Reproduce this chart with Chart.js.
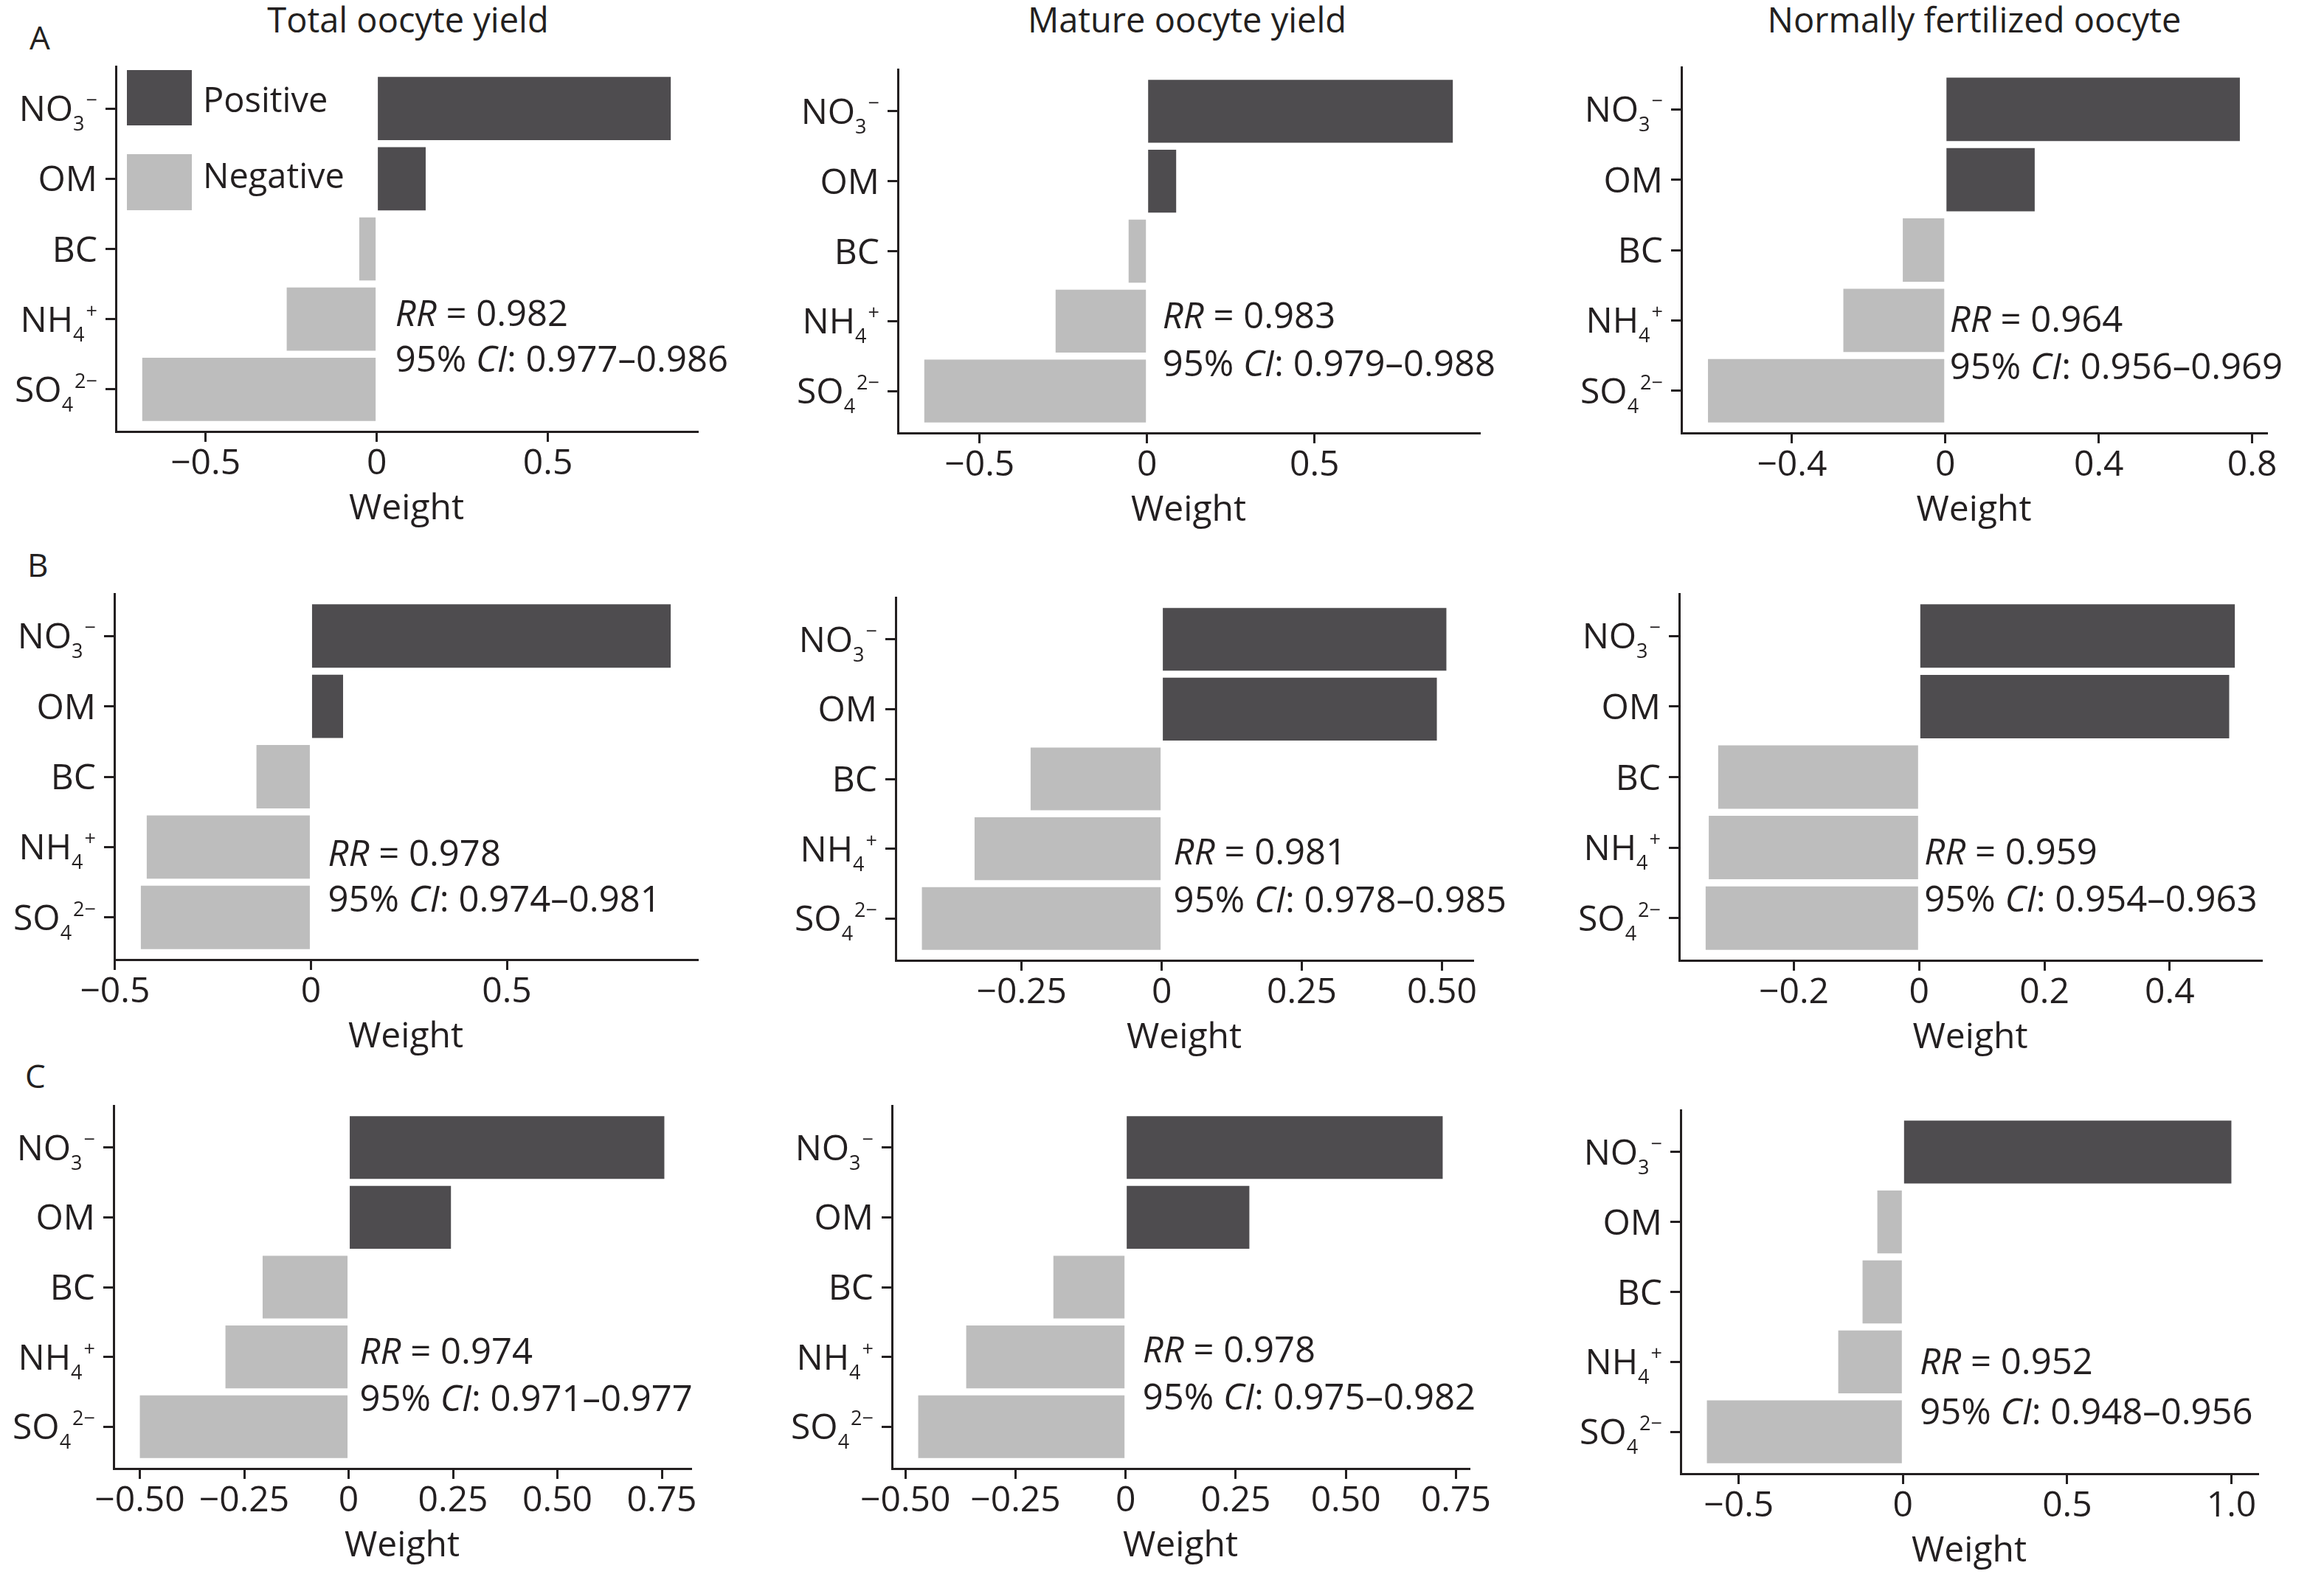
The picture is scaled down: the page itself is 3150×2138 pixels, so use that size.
<!DOCTYPE html>
<html>
<head>
<meta charset="utf-8">
<script src="https://cdn.jsdelivr.net/npm/chart.js@4.4.1/dist/chart.umd.min.js"></script>
<style>
  body { margin: 0; background: #fff; }
  #page { position: relative; width: 3150px; height: 2138px; overflow: hidden; background: #fff;
          font-family: "Open Sans", sans-serif; color: #231f20; }
  #page canvas { position: absolute; }
  .title { position: absolute; width: 900px; text-align: center; font-size: 47px; line-height: 47px; white-space: nowrap; }
  .letter { position: absolute; font-size: 44px; line-height: 44px; }
</style>
</head>
<body>
<div id="page"></div>
<script>
// categories, top to bottom
const categories = ["NO3−", "OM", "BC", "NH4+", "SO42−"];
const labelParts = [["NO", "3", "−"], ["OM", "", ""], ["BC", "", ""], ["NH", "4", "+"], ["SO", "4", "2−"]];
const columnTitles = ["Total oocyte yield", "Mature oocyte yield", "Normally fertilized oocyte"];
const rowLetters = ["A", "B", "C"];

// weights (NO3, OM, BC, NH4, SO4)
const weightsA1 = [0.859, 0.143, -0.051, -0.263, -0.685];
const weightsA2 = [0.913, 0.087, -0.055, -0.273, -0.665];
const weightsA3 = [0.768, 0.233, -0.111, -0.266, -0.619];
const weightsB1 = [0.918, 0.082, -0.139, -0.419, -0.434];
const weightsB2 = [0.508, 0.491, -0.234, -0.334, -0.428];
const weightsB3 = [0.504, 0.495, -0.321, -0.336, -0.341];
const weightsC1 = [0.756, 0.245, -0.206, -0.295, -0.500];
const weightsC2 = [0.720, 0.281, -0.164, -0.362, -0.471];
const weightsC3 = [1.000, -0.078, -0.123, -0.197, -0.597];

// x tick values and labels
const ticksHalf = [-0.5, 0, 0.5];
const labelsHalf = ["−0.5", "0", "0.5"];
const ticksFour = [-0.4, 0, 0.4, 0.8];
const labelsFour = ["−0.4", "0", "0.4", "0.8"];
const ticksQuarter = [-0.25, 0, 0.25, 0.5];
const labelsQuarter = ["−0.25", "0", "0.25", "0.50"];
const ticksTwo = [-0.2, 0, 0.2, 0.4];
const labelsTwo = ["−0.2", "0", "0.2", "0.4"];
const ticksQuarterWide = [-0.5, -0.25, 0, 0.25, 0.5, 0.75];
const labelsQuarterWide = ["−0.50", "−0.25", "0", "0.25", "0.50", "0.75"];
const ticksOne = [-0.5, 0, 0.5, 1.0];
const labelsOne = ["−0.5", "0", "0.5", "1.0"];

// RR and 95% CI per panel
const rrValues = ["0.982", "0.983", "0.964", "0.978", "0.981", "0.959", "0.974", "0.978", "0.952"];
const ciLower = ["0.977", "0.979", "0.956", "0.974", "0.978", "0.954", "0.971", "0.975", "0.948"];
const ciUpper = ["0.986", "0.988", "0.969", "0.981", "0.985", "0.963", "0.977", "0.982", "0.956"];

const panelWeights = [weightsA1, weightsA2, weightsA3, weightsB1, weightsB2, weightsB3, weightsC1, weightsC2, weightsC3];
const panelTicks = [ticksHalf, ticksHalf, ticksFour, ticksHalf, ticksQuarter, ticksTwo, ticksQuarterWide, ticksQuarterWide, ticksOne];
const panelTickLabels = [labelsHalf, labelsHalf, labelsFour, labelsHalf, labelsQuarter, labelsTwo, labelsQuarterWide, labelsQuarterWide, labelsOne];

// plot boxes on the page (px) and where the RR text sits
const panelBoxes = [
  { L: 157, T: 90, R: 945, B: 585, dx: 25, rrAt: 2.92, ciAt: 3.57 },
  { L: 1217, T: 94, R: 2005, B: 587, dx: 21, rrAt: 2.92, ciAt: 3.61 },
  { L: 2279, T: 91, R: 3072, B: 587, dx: 6, rrAt: 2.99, ciAt: 3.66 },
  { L: 155, T: 805, R: 945, B: 1301, dx: 23, rrAt: 3.09, ciAt: 3.74 },
  { L: 1214, T: 810, R: 1996, B: 1302, dx: 16, rrAt: 3.05, ciAt: 3.73 },
  { L: 2276, T: 805, R: 3065, B: 1302, dx: 7, rrAt: 3.06, ciAt: 3.73 },
  { L: 154, T: 1499, R: 936, B: 1991, dx: 15, rrAt: 2.92, ciAt: 3.60 },
  { L: 1209, T: 1499, R: 1991, B: 1991, dx: 23, rrAt: 2.90, ciAt: 3.57 },
  { L: 2278, T: 1505, R: 3060, B: 1998, dx: 23, rrAt: 3.00, ciAt: 3.71 }
];
const titleCenters = [553, 1609, 2676];
const letterSpots = [[40, 28], [37, 743], [34, 1436]];

const ink = "#231f20";
const darkBar = "#4e4c4f";
const lightBar = "#bdbdbd";
const family = "'Open Sans', sans-serif";
const YW = 150, PT = 40, PR = 80, XH = 134;

const page = document.getElementById("page");

columnTitles.forEach((t, i) => {
  const d = document.createElement("div");
  d.className = "title";
  d.textContent = t;
  d.style.left = (titleCenters[i] - 450) + "px";
  d.style.top = "3px";
  page.appendChild(d);
});
rowLetters.forEach((t, i) => {
  const d = document.createElement("div");
  d.className = "letter";
  d.textContent = t;
  d.style.left = letterSpots[i][0] + "px";
  d.style.top = letterSpots[i][1] + "px";
  page.appendChild(d);
});

function drawRuns(ctx, runs, x, y) {
  runs.forEach(([txt, italic]) => {
    ctx.font = (italic ? "italic " : "") + "49px " + family;
    ctx.fillText(txt, x, y);
    x += ctx.measureText(txt).width;
  });
}

function panelPlugin(idx, originX, originY) {
  const box = panelBoxes[idx];
  return {
    id: "panelText" + idx,
    afterDraw(chart) {
      const ctx = chart.ctx;
      const ys = chart.scales.y, xs = chart.scales.x, area = chart.chartArea;
      ctx.save();
      ctx.fillStyle = ink;
      ctx.textBaseline = "alphabetic";
      ctx.textAlign = "left";

      // y labels with sub/superscripts
      labelParts.forEach((parts, i) => {
        const base = ys.getPixelForValue(i) + 17;
        ctx.font = "48px " + family;
        const wBase = ctx.measureText(parts[0]).width;
        ctx.font = "27px " + family;
        const wSub = ctx.measureText(parts[1]).width;
        const wSup = ctx.measureText(parts[2]).width;
        let x = area.left - 25 - (wBase + wSub + wSup + (parts[2] ? 2 : 0));
        ctx.font = "48px " + family;
        ctx.fillText(parts[0], x, base);
        ctx.font = "27px " + family;
        ctx.fillText(parts[1], x + wBase, base + 13);
        ctx.fillText(parts[2], x + wBase + wSub + 2, base - 19);
      });

      // RR and CI text
      const tx = xs.getPixelForValue(0) + box.dx;
      drawRuns(ctx, [["RR", true], [" = " + rrValues[idx], false]], tx, ys.getPixelForValue(box.rrAt) + 17);
      drawRuns(ctx, [["95% ", false], ["CI", true], [": " + ciLower[idx] + "–" + ciUpper[idx], false]],
        tx, ys.getPixelForValue(box.ciAt) + 17);

      // legend in the first panel
      if (idx === 0) {
        ctx.fillStyle = darkBar;
        ctx.fillRect(172 - originX, 95 - originY, 88, 75);
        ctx.fillStyle = lightBar;
        ctx.fillRect(172 - originX, 209 - originY, 88, 76);
        ctx.fillStyle = ink;
        ctx.font = "47px " + family;
        ctx.fillText("Positive", 275 - originX, 152 - originY);
        ctx.fillText("Negative", 275 - originX, 255 - originY);
      }
      ctx.restore();
    }
  };
}

panelBoxes.forEach((box, idx) => {
  const values = panelWeights[idx];
  const tickVals = panelTicks[idx];
  const tickLabels = panelTickLabels[idx];
  const lo = Math.min(0, ...values), hi = Math.max(0, ...values);
  const pad = (hi - lo) * 0.05;

  const originX = box.L - YW, originY = box.T - PT;
  const w = YW + (box.R - box.L) + PR;
  const h = PT + (box.B - box.T) + XH;
  const canvas = document.createElement("canvas");
  canvas.width = w; canvas.height = h;
  canvas.style.left = originX + "px";
  canvas.style.top = originY + "px";
  canvas.style.width = w + "px";
  canvas.style.height = h + "px";
  page.appendChild(canvas);

  new Chart(canvas, {
    type: "bar",
    data: {
      labels: categories,
      datasets: [{
        data: values.map((v, i) => ({ x: v, y: i })),
        backgroundColor: values.map(v => v >= 0 ? darkBar : lightBar),
        borderWidth: 0,
        barPercentage: 0.9,
        categoryPercentage: 1
      }]
    },
    options: {
      indexAxis: "y",
      responsive: false,
      animation: false,
      devicePixelRatio: 1,
      layout: { padding: { left: 0, top: PT, right: PR, bottom: 0 } },
      plugins: { legend: { display: false }, tooltip: { enabled: false } },
      scales: {
        x: {
          type: "linear",
          min: lo - pad,
          max: hi + pad,
          offset: false,
          afterBuildTicks: s => { s.ticks = tickVals.map(v => ({ value: v })); },
          afterFit: s => { s.height = XH; },
          ticks: {
            autoSkip: false, maxRotation: 0, padding: 2, color: ink,
            font: { family: family, size: 48 },
            callback: (v, i) => tickLabels[i]
          },
          grid: { offset: false, drawOnChartArea: false, drawTicks: true, tickLength: 14, color: ink, lineWidth: 3 },
          border: { display: true, color: ink, width: 3 },
          title: { display: true, text: "Weight", color: ink, font: { family: family, size: 48 }, padding: { top: 0, bottom: 0 } }
        },
        y: {
          type: "linear",
          reverse: true,
          min: -0.6,
          max: 4.6,
          offset: false,
          afterBuildTicks: s => { s.ticks = categories.map((c, i) => ({ value: i })); },
          afterFit: s => { s.width = YW; },
          ticks: { display: false },
          grid: { offset: false, drawOnChartArea: false, drawTicks: true, tickLength: 14, color: ink, lineWidth: 3 },
          border: { display: true, color: ink, width: 3 }
        }
      }
    },
    plugins: [panelPlugin(idx, originX, originY)]
  });
});
</script>
</body>
</html>
